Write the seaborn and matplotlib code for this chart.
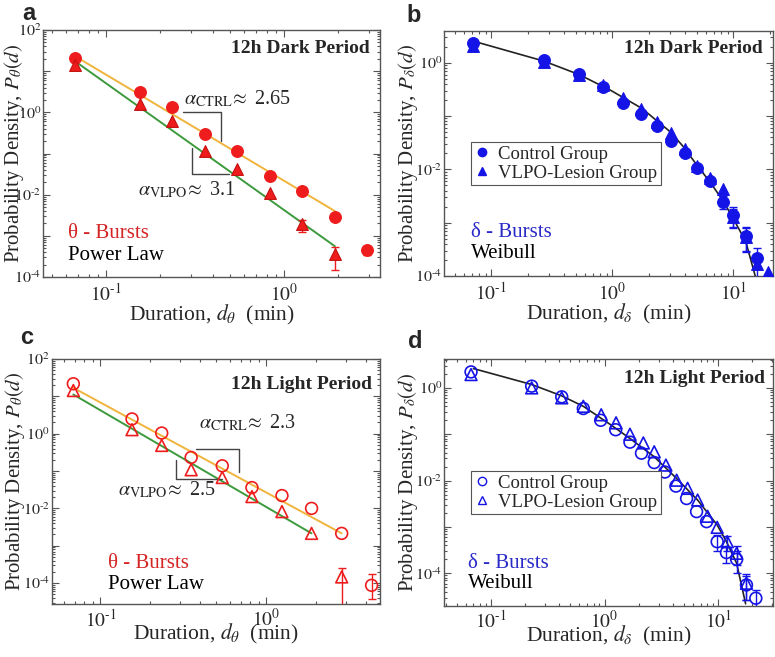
import numpy as np
import matplotlib
matplotlib.use("Agg")
import matplotlib.pyplot as plt
from matplotlib.ticker import LogLocator, FuncFormatter, NullFormatter
from matplotlib.lines import Line2D
import seaborn as sns

# Panel a: theta bursts, dark period
a_x_ctrl = [0.067, 0.155, 0.236, 0.36, 0.547, 0.834, 1.27, 1.93, 2.94]
a_y_ctrl = [21, 3.08, 1.32, 0.30, 0.112, 0.0285, 0.0125, 0.0029, 4.6e-4]
a_lo_ctrl = [0, 0, 0, 0, 0, 0, 0, 0, 1.2e-4]
a_hi_ctrl = [0, 0, 0, 0, 0, 0, 0, 0, 1.0e-4]
a_x_vlpo = [0.067, 0.155, 0.236, 0.36, 0.547, 0.834, 1.27, 1.93]
a_y_vlpo = [14.5, 1.63, 0.60, 0.118, 0.043, 0.0108, 0.00193, 3.7e-4]
a_lo_vlpo = [0, 0, 0, 0, 0, 0, 6.8e-4, 2.2e-4]
a_hi_vlpo = [0, 0, 0, 0, 0, 0, 4.8e-4, 1.7e-4]
a_fit_x = [0.067, 1.93]
a_fit_ctrl = [23.2, 0.0040]
a_fit_vlpo = [17.5, 5.6e-4]

# Panel b: delta bursts, dark period
b_x_ctrl = [0.0714, 0.2735, 0.532, 0.845, 1.24, 1.73, 2.34, 3.07, 3.96, 5.01, 6.46, 8.17, 10.0, 12.7, 15.7]
b_y_ctrl = [2.30, 1.12, 0.613, 0.345, 0.173, 0.109, 0.065, 0.0344, 0.020, 0.0105, 0.0061, 0.00247, 0.00139, 5.6e-4, 2.14e-4]
b_err_ctrl = [0, 0, 0, 0, 0, 0, 0, 0, 0, 0, 0, 7e-4, 5.6e-4, 2.8e-4, 1.2e-4]
b_x_vlpo = [0.0714, 0.2735, 0.532, 0.845, 1.24, 1.73, 2.34, 3.07, 3.96, 5.01, 6.46, 8.17, 10.0, 12.7, 15.7, 19.2]
b_y_vlpo = [2.05, 1.04, 0.60, 0.381, 0.215, 0.133, 0.078, 0.047, 0.0237, 0.0115, 0.0068, 0.0042, 0.0013, 5.5e-4, 1.67e-4, 1.2e-4]
b_err_vlpo = [0, 0, 0, 0, 0, 0, 0, 0, 0, 0, 0, 0, 5e-4, 2.5e-4, 0, 0]
b_fit_x = [0.0738, 0.273, 0.532, 0.963, 1.76, 3.01, 3.88, 5.01, 6.46, 8.17, 10.0, 12.7, 15.2]
b_fit_y = [2.48, 1.07, 0.60, 0.307, 0.139, 0.0508, 0.0265, 0.012, 0.0057, 0.00265, 0.0012, 4.4e-4, 1.0e-4]

# Panel c: theta bursts, light period
c_x_ctrl = [0.0687, 0.155, 0.234, 0.352, 0.542, 0.818, 1.24, 1.87, 2.84, 4.3]
c_y_ctrl = [21.7, 2.48, 1.04, 0.231, 0.138, 0.036, 0.022, 0.010, 0.00214, 8.7e-5]
c_lo_ctrl = [0, 0, 0, 0, 0, 0, 0, 0, 0, 5.0e-5]
c_hi_ctrl = [0, 0, 0, 0, 0, 0, 0, 0, 0, 9.1e-5]
c_x_vlpo = [0.0687, 0.155, 0.234, 0.352, 0.542, 0.818, 1.24, 1.87, 2.84]
c_y_vlpo = [14.3, 1.28, 0.485, 0.108, 0.067, 0.0207, 0.0082, 0.00214, 1.46e-4]
c_lo_vlpo = [0, 0, 0, 0, 0, 0, 0, 0, 1.455e-4]
c_hi_vlpo = [0, 0, 0, 0, 0, 0, 0, 0, 1.0e-4]
c_fit_x_ctrl = [0.0687, 2.84]
c_fit_ctrl = [16.9, 0.00214]
c_fit_x_vlpo = [0.0687, 1.87]
c_fit_vlpo = [11.2, 0.00214]

# Panel d: delta bursts, light period
d_x_ctrl = [0.0667, 0.228, 0.419, 0.649, 0.923, 1.25, 1.67, 2.11, 2.73, 3.39, 4.24, 5.26, 6.44, 7.89, 9.78, 11.8, 14.5, 17.7, 21.4]
d_y_ctrl = [2.21, 1.09, 0.64, 0.359, 0.20, 0.125, 0.0675, 0.039, 0.0245, 0.0153, 0.0076, 0.0041, 0.00214, 0.0013, 4.8e-4, 2.8e-4, 2.0e-4, 5.6e-5, 2.9e-5]
d_err_ctrl = [0, 0, 0, 0, 0, 0, 0, 0, 0, 0, 0, 0, 0, 0, 1.8e-4, 1.1e-4, 1.0e-4, 3e-5, 1.5e-5]
d_x_vlpo = [0.0667, 0.228, 0.419, 0.649, 0.933, 1.26, 1.67, 2.19, 2.73, 3.46, 4.3, 5.37, 6.58, 8.05, 9.78, 12.0, 14.5, 17.7]
d_y_vlpo = [1.94, 1.0, 0.61, 0.40, 0.263, 0.176, 0.10, 0.065, 0.0418, 0.0216, 0.0102, 0.0068, 0.0038, 0.0017, 9.8e-4, 4.8e-4, 2.7e-4, 6.1e-5]
d_err_vlpo = [0, 0, 0, 0, 0, 0, 0, 0, 0, 0, 0, 0, 0, 0, 0, 1.7e-4, 1.2e-4, 3.5e-5]
d_fit_x = [0.07, 0.228, 0.419, 0.649, 1.11, 1.67, 2.73, 4.3, 6.58, 9.78, 11.8, 14.5, 17.4]
d_fit_y = [2.61, 1.18, 0.673, 0.40, 0.165, 0.081, 0.0326, 0.0111, 0.0038, 0.0011, 4.8e-4, 1.65e-4, 2.2e-5]

RED = "#ee1c1c"
RED_EDGE = "#c41010"
BLUE = "#1414e6"
ORANGE = "#f0b43c"
GREEN = "#3c9a3c"
GREY = "#555555"

sns.set_theme(style="ticks")
plt.rcParams["font.family"] = ["Liberation Serif", "DejaVu Serif"]
plt.rcParams["mathtext.fontset"] = "stix"


def pow10(v, p, every=1):
    e = int(round(np.log10(v)))
    if e % every:
        return ""
    if e < 0:
        return r"$10^{\text{-}%d}$" % -e
    return r"$10^{%d}$" % e


def setup_axis(ax, xlim, ylim, xpad=4):
    ax.set_xscale("log")
    ax.set_yscale("log")
    ax.set_xlim(*xlim)
    ax.set_ylim(*ylim)
    for axis in (ax.xaxis, ax.yaxis):
        axis.set_major_locator(LogLocator(base=10, subs=(1.0,), numticks=50))
        axis.set_minor_locator(LogLocator(base=10, subs=np.arange(2, 10), numticks=50))
        axis.set_minor_formatter(NullFormatter())
    ax.xaxis.set_major_formatter(FuncFormatter(pow10))
    ax.yaxis.set_major_formatter(FuncFormatter(lambda v, p: pow10(v, p, 2)))
    ax.tick_params(which="both", direction="in", top=True, right=True, color=GREY, width=0.8)
    ax.tick_params(axis="x", pad=xpad, labelsize=14)
    ax.tick_params(axis="y", pad=1.5, labelsize=11.5)
    ax.tick_params(which="major", length=5)
    ax.tick_params(which="minor", length=2.5)
    for s in ax.spines.values():
        s.set_color(GREY)
        s.set_linewidth(1.0)


def points(ax, x, y, marker, color, filled, edge=None):
    if filled:
        sns.scatterplot(x=x, y=y, ax=ax, marker=marker, s=72, color=color,
                        edgecolor=edge or color, linewidth=0.8, zorder=4)
    else:
        sns.scatterplot(x=x, y=y, ax=ax, marker=marker, s=72, color=color,
                        facecolor="none", edgecolor=color, linewidth=1.2, zorder=4)


def errs(ax, x, y, lo, hi, color):
    x, y, lo, hi = map(np.asarray, (x, y, lo, hi))
    m = (lo > 0) | (hi > 0)
    ax.errorbar(x[m], y[m], yerr=[lo[m], hi[m]], fmt="none", ecolor=color,
                elinewidth=1.0, capsize=3, capthick=1.0, zorder=3)


def labels(ax, sym, lx, xpad):
    ax.set_ylabel(r"Probability Density, $P_{\%s}(d)$" % sym, fontsize=15)
    ax.set_xlabel(r"Duration, $d_{\%s}$  (min)" % sym, fontsize=15.5, labelpad=xpad)
    ax.yaxis.set_label_coords(lx, 0.5)


fig = plt.figure(figsize=(7.75, 6.57), dpi=100)
ax_a = fig.add_axes([0.0559, 0.5784, 0.4344, 0.3759])
ax_b = fig.add_axes([0.5733, 0.5799, 0.4241, 0.3734])
ax_c = fig.add_axes([0.0671, 0.0802, 0.4232, 0.3734])
ax_d = fig.add_axes([0.5733, 0.0781, 0.4241, 0.3755])

for ax in (ax_a, ax_b, ax_c, ax_d):
    ax.set_xscale("log")
    ax.set_yscale("log")

# ---- panel a ----
sns.lineplot(x=a_fit_x, y=a_fit_ctrl, ax=ax_a, color=ORANGE, lw=1.4, zorder=2)
sns.lineplot(x=a_fit_x, y=a_fit_vlpo, ax=ax_a, color=GREEN, lw=1.4, zorder=2)
errs(ax_a, a_x_ctrl, a_y_ctrl, a_lo_ctrl, a_hi_ctrl, RED)
errs(ax_a, a_x_vlpo, a_y_vlpo, a_lo_vlpo, a_hi_vlpo, RED)
points(ax_a, a_x_ctrl, a_y_ctrl, "o", RED, True)
points(ax_a, a_x_vlpo, a_y_vlpo, "^", RED, True, RED_EDGE)
setup_axis(ax_a, (0.0445, 3.46), (1e-4, 1e2))
ax_a.plot([0.272, 0.441, 0.441], [1.0, 1.0, 0.196], color="#444444", lw=1.0)
ax_a.plot([0.303, 0.303, 0.493], [0.135, 0.0319, 0.0319], color="#444444", lw=1.0)
ax_a.text(0.275, 1.55, r"$\alpha_{\mathrm{CTRL}}\!\approx$ 2.65", fontsize=14.5, va="baseline")
ax_a.text(0.152, 0.0098, r"$\alpha_{\mathrm{VLPO}}\!\approx$ 3.1", fontsize=14.5, va="baseline")
ax_a.text(0.970, 0.927, "12h Dark Period", transform=ax_a.transAxes, ha="right", va="center",
          fontsize=14, fontweight="bold")
ax_a.text(0.073, 0.178, "θ - Bursts", transform=ax_a.transAxes, va="center", fontsize=15, color="#d42424")
ax_a.text(0.073, 0.089, "Power Law", transform=ax_a.transAxes, va="center", fontsize=15, color="black")
labels(ax_a, "theta", -0.052, -1)

# ---- panel b ----
sns.lineplot(x=b_fit_x, y=b_fit_y, ax=ax_b, color="#222222", lw=1.2, zorder=2)
errs(ax_b, b_x_ctrl, b_y_ctrl, b_err_ctrl, b_err_ctrl, BLUE)
errs(ax_b, b_x_vlpo, b_y_vlpo, b_err_vlpo, b_err_vlpo, BLUE)
points(ax_b, b_x_ctrl, b_y_ctrl, "o", BLUE, True)
points(ax_b, b_x_vlpo, b_y_vlpo, "^", BLUE, True)
setup_axis(ax_b, (0.0411, 21.3), (1e-4, 3.98))
ax_b.text(0.970, 0.928, "12h Dark Period", transform=ax_b.transAxes, ha="right", va="center",
          fontsize=14, fontweight="bold")
ax_b.text(0.081, 0.178, "δ - Bursts", transform=ax_b.transAxes, va="center", fontsize=15, color="#2a2ac8")
ax_b.text(0.081, 0.090, "Weibull", transform=ax_b.transAxes, va="center", fontsize=15, color="black")
labels(ax_b, "delta", -0.073, -1)

# ---- panel c ----
sns.lineplot(x=c_fit_x_ctrl, y=c_fit_ctrl, ax=ax_c, color=ORANGE, lw=1.4, zorder=2)
sns.lineplot(x=c_fit_x_vlpo, y=c_fit_vlpo, ax=ax_c, color=GREEN, lw=1.4, zorder=2)
errs(ax_c, c_x_ctrl, c_y_ctrl, c_lo_ctrl, c_hi_ctrl, RED)
errs(ax_c, c_x_vlpo, c_y_vlpo, c_lo_vlpo, c_hi_vlpo, RED)
points(ax_c, c_x_ctrl, c_y_ctrl, "o", RED, False)
points(ax_c, c_x_vlpo, c_y_vlpo, "^", RED, False)
setup_axis(ax_c, (0.0511, 4.83), (2.7e-5, 1e2), xpad=3)
ax_c.plot([0.379, 0.684, 0.684], [0.395, 0.395, 0.097], color="#444444", lw=1.0)
ax_c.plot([0.284, 0.284, 0.542], [0.2, 0.0617, 0.0617], color="#444444", lw=1.0)
ax_c.text(0.392, 1.36, r"$\alpha_{\mathrm{CTRL}}\!\approx$ 2.3", fontsize=14.5, va="baseline")
ax_c.text(0.127, 0.0229, r"$\alpha_{\mathrm{VLPO}}\!\approx$ 2.5", fontsize=14.5, va="baseline")
ax_c.text(0.975, 0.894, "12h Light Period", transform=ax_c.transAxes, ha="right", va="center",
          fontsize=14, fontweight="bold")
ax_c.text(0.171, 0.167, "θ - Bursts", transform=ax_c.transAxes, va="center", fontsize=15, color="#d42424")
ax_c.text(0.171, 0.079, "Power Law", transform=ax_c.transAxes, va="center", fontsize=15, color="black")
labels(ax_c, "theta", -0.076, -6)

# ---- panel d ----
sns.lineplot(x=d_fit_x, y=d_fit_y, ax=ax_d, color="#222222", lw=1.2, zorder=2)
errs(ax_d, d_x_ctrl, d_y_ctrl, d_err_ctrl, d_err_ctrl, BLUE)
errs(ax_d, d_x_vlpo, d_y_vlpo, d_err_vlpo, d_err_vlpo, BLUE)
points(ax_d, d_x_ctrl, d_y_ctrl, "o", BLUE, False)
points(ax_d, d_x_vlpo, d_y_vlpo, "^", BLUE, False)
setup_axis(ax_d, (0.0388, 30.3), (2.0e-5, 4.2), xpad=3)
ax_d.text(0.976, 0.922, "12h Light Period", transform=ax_d.transAxes, ha="right", va="center",
          fontsize=14, fontweight="bold")
ax_d.text(0.071, 0.172, "δ - Bursts", transform=ax_d.transAxes, va="center", fontsize=15, color="#2a2ac8")
ax_d.text(0.071, 0.091, "Weibull", transform=ax_d.transAxes, va="center", fontsize=15, color="black")
labels(ax_d, "delta", -0.073, -6)

# legends
for ax, filled in ((ax_b, True), (ax_d, False)):
    fc = BLUE if filled else "none"
    handles = [Line2D([], [], ls="none", marker="o", markersize=6, markerfacecolor=fc,
                      markeredgecolor=BLUE, markeredgewidth=1.0, label="Control Group"),
               Line2D([], [], ls="none", marker="^", markersize=6, markerfacecolor=fc,
                      markeredgecolor=BLUE, markeredgewidth=1.0, label="VLPO-Lesion Group")]
    leg = ax.legend(handles=handles, loc="upper left", bbox_to_anchor=(0.081, 0.547), fontsize=13.5,
                    frameon=True, fancybox=False, framealpha=1, edgecolor=GREY, borderpad=0.2,
                    labelspacing=0.1, handlelength=0.8, handletextpad=0.45, borderaxespad=0)
    leg.get_frame().set_linewidth(0.8)

# panel letters
for lbl, (px, py) in zip("abcd", [(29, 14), (414, 15), (27, 338), (415, 342)]):
    fig.text(px / 775, 1 - py / 657, lbl, fontsize=17, fontweight="bold", family="Liberation Sans",
             ha="center", va="center")

fig.savefig("out.png", dpi=100)
